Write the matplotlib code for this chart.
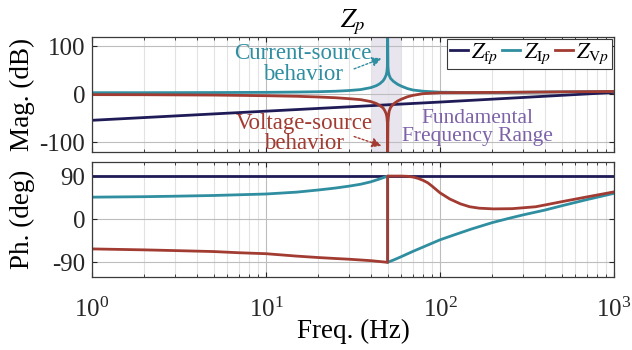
import matplotlib
matplotlib.use("Agg")
import matplotlib.pyplot as plt
from matplotlib.ticker import FixedLocator, LogLocator, NullFormatter

plt.rcParams['font.family'] = 'Liberation Serif'
plt.rcParams['mathtext.fontset'] = 'stix'
plt.rcParams['axes.unicode_minus'] = False

# Magnitude of the grid-side impedances (dB)
freq_mag = [1, 2, 5, 10, 15, 20, 25, 30, 35, 40, 43, 45, 47, 48, 49, 49.5, 49.8, 50,
            50.2, 50.5, 51, 52, 54, 57, 60, 65, 70, 80, 100, 150, 200, 300, 500, 1000]
mag_Ip = [3.5, 3.5, 3.8, 4.2, 4.8, 5.5, 6.5, 8, 10, 14, 18, 22, 28, 33, 40, 47, 58, 130,
          58, 47, 40, 33, 27, 21, 17, 12, 9, 6.5, 4.5, 3.8, 4, 4.5, 5.2, 6]
mag_Vp = [-0.6, -0.8, -1.5, -2.8, -4, -5.5, -7, -9, -11, -15, -19, -23, -28, -33, -40, -47, -58, -130,
          -58, -47, -35, -27, -20, -14, -10, -5, -2, 1.5, 3.5, 3.8, 4, 4.5, 5.2, 6]
freq_fp = [1, 10, 100, 1000]
mag_fp = [-54, -35, -16, 4]

# Phase (deg)
phase_fp = [90, 90, 90, 90]
freq_ph_Ip = [1, 2, 3, 5, 7, 10, 15, 20, 25, 30, 35, 40, 45, 50,
              50, 55, 60, 70, 80, 100, 120, 150, 200, 250, 300, 400, 500, 700, 1000]
phase_Ip = [46, 47, 48, 49.5, 51, 52.6, 56.5, 61, 65, 69, 73, 78, 84, 90,
            -90, -84, -78, -67, -58, -43, -33, -21, -7, 2, 9, 19, 28, 41, 54]
freq_ph_Vp = [1, 2, 3, 5, 7, 10, 15, 20, 25, 30, 40, 50,
              50, 55, 60, 65, 70, 75, 80, 85, 90, 100, 114, 131, 148, 168, 203, 260, 355, 525, 710, 1000]
phase_Vp = [-62, -64, -65.5, -67.5, -70, -72, -77, -80, -82, -83.5, -86.5, -90,
            90, 90, 90, 89.5, 88, 85, 81, 76, 69, 55, 42, 32, 26, 23, 21.5, 22, 26, 38, 47, 57]

band = [40, 60]

c_fp = '#1e1b57'
c_Ip = '#2f8ea0'
c_Vp = '#a23b31'
c_band = '#e9e5ef'
c_txt = '#7d62a8'

fig = plt.figure(figsize=(6.32, 3.5), dpi=100)
ax1 = fig.add_axes([0.1456, 0.5657, 0.826, 0.3294])
ax2 = fig.add_axes([0.1456, 0.2094, 0.826, 0.3286])

ax1.axvspan(band[0], band[1], color=c_band, lw=0, zorder=0)

ax1.plot(freq_fp, mag_fp, color=c_fp, lw=2, label=r'$Z_{\mathrm{f}p}$')
ax1.plot(freq_mag, mag_Ip, color=c_Ip, lw=2, label=r'$Z_{\mathrm{I}p}$')
ax1.plot(freq_mag, mag_Vp, color=c_Vp, lw=2, label=r'$Z_{\mathrm{V}p}$')

ax2.plot(freq_fp, phase_fp, color=c_fp, lw=2)
ax2.plot(freq_ph_Ip, phase_Ip, color=c_Ip, lw=2)
ax2.plot(freq_ph_Vp, phase_Vp, color=c_Vp, lw=2)

for ax in (ax1, ax2):
    ax.set_xscale('log')
    ax.set_xlim(1, 1000)
    ax.set_ylim(-120, 120)
    ax.xaxis.set_major_locator(LogLocator(base=10, numticks=10))
    ax.xaxis.set_minor_locator(LogLocator(base=10, subs=range(2, 10), numticks=20))
    ax.xaxis.set_minor_formatter(NullFormatter())
    ax.grid(True, which='major', color='#bdbdbd', lw=0.8)
    ax.grid(True, which='minor', axis='x', color='#e2e2e2', lw=0.8)
    ax.set_axisbelow(True)
    ax.tick_params(which='both', direction='in', top=True, right=True,
                   labelsize=18, colors='#262626', labelcolor='#262626')
    ax.tick_params(which='major', length=3.5, width=0.8)
    ax.tick_params(which='minor', length=2, width=0.6)
    ax.tick_params(axis='y', pad=5)
    for s in ax.spines.values():
        s.set_color('#3a3a3a')
        s.set_linewidth(0.9)

ax1.set_yticks([-100, 0, 100])
ax1.tick_params(axis='x', labelbottom=False)
ax2.yaxis.set_major_locator(FixedLocator([-90, 0, 90]))
ax2.tick_params(axis='x', pad=15)

ax1.set_ylabel('Mag. (dB)', fontsize=19.5)
ax2.set_ylabel('Ph. (deg)', fontsize=19.5)
ax1.yaxis.set_label_coords(-0.11, 0.5)
ax2.yaxis.set_label_coords(-0.11, 0.5)
ax2.set_xlabel('Freq. (Hz)', fontsize=19.5, labelpad=-2)
ax1.set_title(r'$Z_p$', fontsize=19, pad=4)

leg = ax1.legend(loc='upper right', ncol=3, fontsize=16, handlelength=0.8,
                 handletextpad=0.15, columnspacing=0.2, borderpad=0.12,
                 borderaxespad=0.1, fancybox=False, framealpha=1)
leg.get_frame().set_edgecolor('#3a3a3a')
leg.get_frame().set_linewidth(0.8)

arrow = dict(arrowstyle='-|>', linestyle=(0, (1.5, 1.5)), lw=1, mutation_scale=14)
ax1.text(16.3, 63, 'Current-source\nbehavior', color=c_Ip, fontsize=16.5,
         ha='center', va='center', linespacing=0.95)
ax1.annotate('', xy=(47.7, 77), xytext=(31, 51),
             arrowprops=dict(arrow, color=c_Ip))
ax1.text(16.5, -81, 'Voltage-source\nbehavior', color=c_Vp, fontsize=16.5,
         ha='center', va='center', linespacing=0.95)
ax1.annotate('', xy=(47.7, -109), xytext=(31, -86),
             arrowprops=dict(arrow, color=c_Vp))
ax1.text(163, -69, 'Fundamental\nFrequency Range', color=c_txt, fontsize=15.5,
         ha='center', va='center', linespacing=0.95)

fig.savefig('out.png', dpi=100)
